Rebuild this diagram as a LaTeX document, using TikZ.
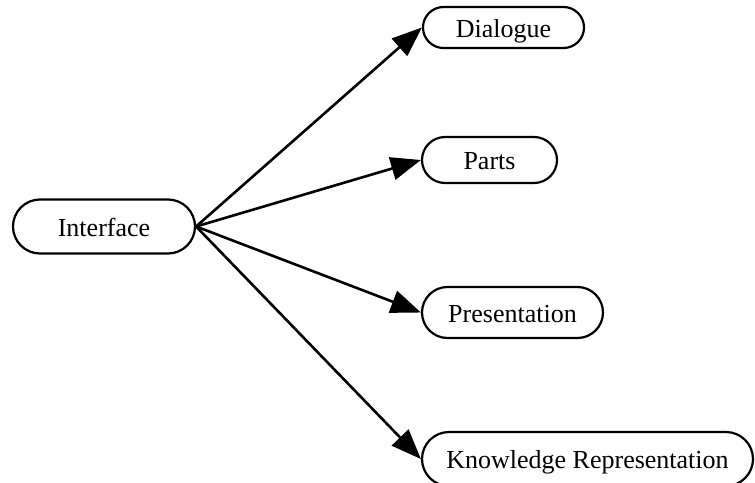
\documentclass[tikz,border=0pt]{standalone}
\usepackage{fontspec}
\setmainfont{Liberation Serif}
\usetikzlibrary{arrows.meta}
\begin{document}
\begin{tikzpicture}[x=1pt,y=-1pt,
  box/.style={draw, line width=2.2pt, rectangle, inner sep=0pt, text height=21pt, text depth=2pt, font=\fontsize{26}{30}\selectfont},
  conn/.style={line width=2.6pt, -{Triangle[length=30pt,width=23pt]}}]
\useasboundingbox (0,0) rectangle (755,482);
\node[box, minimum width=182pt, minimum height=54pt, rounded corners=27pt] (iface) at (104,226.5) {Interface};
\node[box, minimum width=161pt, minimum height=41pt, rounded corners=20.5pt] (dlg) at (503.5,27.5) {Dialogue};
\node[box, minimum width=135pt, minimum height=46pt, rounded corners=23pt] (parts) at (489.5,160) {Parts};
\node[box, minimum width=181pt, minimum height=51pt, rounded corners=25.5pt] (pres) at (512.5,312.5) {Presentation};
\node[box, minimum width=331pt, minimum height=54pt, rounded corners=27pt] (know) at (587.5,459) {Knowledge Representation};
\draw[conn] (iface.east) -- (dlg.west);
\draw[conn] (iface.east) -- (parts.west);
\draw[conn] (iface.east) -- (pres.west);
\draw[conn] (iface.east) -- (know.west);
\end{tikzpicture}
\end{document}
